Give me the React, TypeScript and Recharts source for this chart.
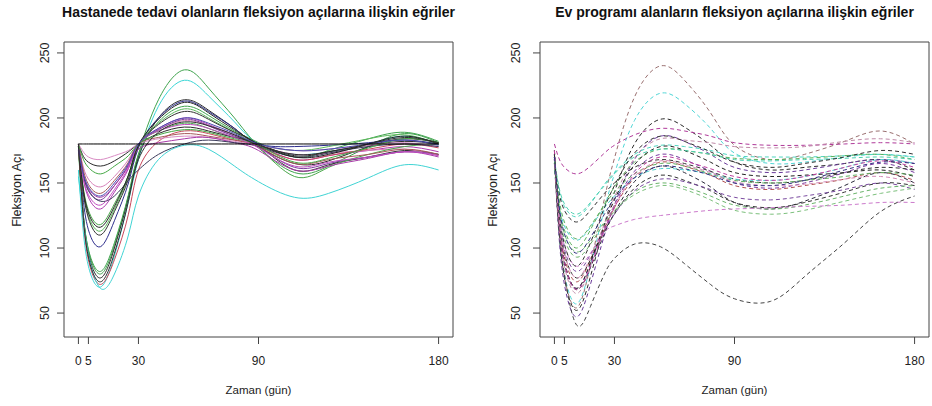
import React from 'react';
import { LineChart, Line, XAxis, YAxis, ReferenceArea } from 'recharts';

// gün (zaman) noktaları, her eğri bu noktalardaki değerlerle çizilir
const gunler = [0, 2, 5, 11, 18, 25, 30, 40, 53, 65, 78, 90, 108, 125, 145, 163, 180];
const xTicks = [0, 5, 30, 90, 180];
const yTicks = [50, 100, 150, 200, 250];

// Hastanede tedavi olanlar
const hastaneEgrileri: number[][] = [
  [178, 134, 98, 80, 102, 140, 172, 214, 237, 223, 200, 178, 158, 163, 178, 188, 181],
  [160, 120, 86, 70, 94, 136, 168, 209, 229, 217, 197, 180, 172, 174, 180, 186, 180],
  [180, 134, 96, 77, 100, 139, 170, 200, 214, 206, 192, 178, 165, 167, 178, 184, 181],
  [178, 143, 114, 101, 121, 150, 177, 200, 213, 205, 192, 180, 178, 179, 181, 183, 180],
  [175, 133, 99, 82, 104, 141, 172, 197, 209, 202, 190, 181, 170, 175, 184, 189, 182],
  [178, 149, 125, 113, 130, 155, 179, 196, 207, 200, 189, 180, 175, 178, 184, 187, 180],
  [180, 148, 123, 110, 128, 153, 178, 195, 205, 199, 189, 179, 160, 164, 170, 175, 172],
  [180, 157, 139, 130, 143, 161, 180, 192, 200, 195, 187, 179, 168, 171, 175, 178, 174],
  [180, 165, 153, 147, 155, 168, 180, 191, 198, 194, 186, 179, 172, 173, 175, 176, 171],
  [180, 161, 145, 137, 148, 164, 180, 191, 199, 194, 186, 178, 162, 165, 170, 174, 172],
  [178, 151, 129, 118, 134, 156, 179, 190, 196, 192, 185, 177, 155, 162, 172, 178, 180],
  [180, 172, 166, 163, 167, 174, 180, 188, 193, 190, 185, 180, 171, 174, 179, 182, 180],
  [180, 131, 91, 72, 91, 126, 160, 182, 190, 188, 183, 178, 168, 171, 176, 180, 177],
  [180, 163, 149, 142, 152, 166, 180, 185, 188, 186, 183, 178, 165, 168, 172, 176, 172],
  [180, 175, 170, 168, 171, 175, 180, 184, 186, 185, 182, 179, 175, 176, 179, 181, 178],
  [175, 159, 146, 139, 148, 163, 176, 181, 184, 185, 181, 175, 160, 163, 169, 174, 170],
  [178, 159, 144, 136, 140, 152, 160, 172, 180, 183, 181, 178, 170, 173, 178, 180, 178],
  [155, 128, 95, 69, 80, 110, 140, 168, 179, 176, 163, 151, 139, 142, 154, 164, 160],
  [180, 170, 162, 157, 163, 171, 180, 187, 191, 189, 184, 179, 166, 169, 177, 184, 181],
  [178, 157, 141, 133, 145, 162, 180, 190, 195, 192, 185, 177, 163, 166, 170, 174, 171],
  [178, 150, 127, 116, 132, 156, 179, 199, 212, 204, 191, 180, 170, 172, 180, 186, 180],
  [176, 160, 147, 140, 150, 165, 180, 192, 200, 196, 188, 180, 175, 176, 180, 183, 179],
  [180, 132, 93, 74, 96, 136, 168, 189, 197, 194, 187, 179, 172, 174, 180, 185, 181],
  [180, 180, 180, 180, 180, 180, 180, 180, 180, 180, 180, 180, 180, 180, 180, 180, 180],
];
const hastaneRenkleri = [
  '#3fa34d', '#3ad6d6', '#2b2b2b', '#2e2e8c', '#3fa34d', '#5cb85c', '#333333', '#b13bb1',
  '#d77fb8', '#7d3f9e', '#4aa84a', '#2b2b2b', '#c8475c', '#a65a5a', '#d98cc4', '#a83aa8',
  '#3a3a5a', '#40d4d4', '#44a844', '#c04cc0', '#222222', '#4b4bb0', '#2f2f2f', '#000000',
];

// Ev programı alanlar
const evEgrileri: number[][] = [
  [172, 119, 78, 54, 87, 138, 169, 216, 240, 229, 204, 179, 168, 172, 182, 190, 180],
  [170, 119, 80, 57, 86, 130, 157, 198, 219, 211, 192, 173, 165, 166, 170, 172, 170],
  [175, 120, 77, 52, 78, 118, 143, 180, 199, 193, 179, 166, 160, 162, 165, 168, 160],
  [180, 170, 162, 157, 163, 173, 179, 187, 192, 190, 186, 181, 179, 179, 180, 181, 180],
  [172, 116, 72, 47, 72, 110, 133, 168, 186, 182, 172, 162, 158, 160, 165, 168, 165],
  [168, 122, 86, 65, 86, 119, 139, 169, 184, 183, 181, 178, 177, 178, 182, 184, 181],
  [165, 147, 132, 124, 134, 149, 158, 172, 179, 178, 175, 171, 170, 170, 171, 172, 170],
  [168, 137, 114, 100, 114, 134, 147, 166, 176, 175, 172, 169, 168, 169, 171, 172, 168],
  [170, 125, 89, 69, 88, 115, 133, 159, 172, 168, 159, 150, 146, 150, 158, 165, 158],
  [165, 145, 129, 120, 129, 142, 150, 162, 168, 165, 159, 153, 150, 152, 158, 162, 160],
  [168, 126, 93, 74, 91, 115, 131, 154, 166, 163, 156, 148, 145, 148, 153, 158, 152],
  [170, 124, 88, 68, 85, 111, 127, 151, 163, 158, 147, 135, 130, 136, 148, 158, 150],
  [160, 136, 117, 106, 116, 131, 140, 154, 161, 160, 157, 153, 152, 155, 162, 168, 165],
  [172, 129, 96, 77, 91, 113, 126, 146, 156, 152, 144, 135, 131, 135, 143, 150, 148],
  [168, 129, 99, 82, 95, 114, 126, 144, 153, 151, 145, 139, 137, 140, 145, 150, 145],
  [165, 133, 107, 93, 103, 119, 128, 143, 150, 147, 140, 133, 130, 133, 140, 146, 148],
  [168, 136, 111, 97, 106, 120, 129, 141, 148, 145, 137, 129, 126, 129, 136, 142, 146],
  [170, 132, 102, 86, 96, 112, 117, 122, 125, 127, 129, 130, 131, 132, 133, 135, 135],
  [165, 120, 80, 41, 55, 80, 92, 103, 101, 88, 72, 61, 59, 78, 104, 128, 140],
  [175, 127, 90, 69, 89, 118, 137, 164, 178, 175, 166, 158, 155, 156, 158, 160, 155],
  [168, 149, 134, 126, 135, 148, 157, 170, 176, 175, 172, 168, 167, 168, 169, 170, 168],
  [170, 142, 120, 107, 117, 133, 143, 157, 165, 163, 157, 152, 150, 152, 155, 158, 156],
  [175, 127, 89, 68, 86, 114, 131, 157, 170, 167, 161, 155, 152, 155, 162, 167, 162],
  [172, 133, 103, 86, 104, 131, 148, 173, 186, 182, 174, 166, 162, 165, 170, 175, 172],
  [170, 128, 96, 77, 93, 118, 133, 155, 167, 164, 158, 151, 148, 149, 153, 155, 150],
  [170, 137, 111, 96, 108, 126, 138, 154, 163, 161, 156, 150, 148, 152, 160, 166, 165],
];
const evRenkleri = [
  '#9a7070', '#4fd6d6', '#2a2a2a', '#b03a9a', '#6a3a9a', '#c08aa8', '#4fd6c0', '#5ab05a',
  '#7a3aa0', '#333333', '#b05050', '#2a2a3a', '#50d0d0', '#333333', '#7a4aa0', '#6ab46a',
  '#7cc07c', '#cc7acc', '#444444', '#222222', '#4cd0b0', '#60b060', '#c040a0', '#303030',
  '#d48cb8', '#2f2f80',
];

const FONT = '"Liberation Sans", Arial, sans-serif';
const X_DOMAIN: [number, number] = [-7.2, 187.2];
const Y_DOMAIN: [number, number] = [31.6, 258.4];

function tablo(egriler: number[][]) {
  return gunler.map((t, i) => {
    const row: Record<string, number> = { t };
    egriler.forEach((e, k) => {
      row['e' + k] = e[i];
    });
    return row;
  });
}

interface PanelProps {
  title: string;
  egriler: number[][];
  renkler: string[];
  dashed: boolean;
  yWidth: number;
  right: number;
  tickGap: number;
  labelX: number;
}

const Panel: React.FC<PanelProps> = ({ title, egriler, renkler, dashed, yWidth, right, tickGap, labelX }) => {
  const data = tablo(egriler);
  const cx = (yWidth + 466 - right) / 2;

  const YTick = (props: any) => {
    const { x, y, payload } = props;
    return (
      <text
        transform={`translate(${x - tickGap},${y}) rotate(-90)`}
        textAnchor="middle"
        fontSize={12.5}
        fontFamily={FONT}
        fill="#222"
      >
        {payload.value}
      </text>
    );
  };

  return (
    <div style={{ position: 'relative', width: 466, height: 406, fontFamily: FONT }}>
      <LineChart width={466} height={406} data={data} margin={{ top: 42, right, bottom: 29, left: 0 }}>
        <XAxis
          dataKey="t"
          type="number"
          domain={X_DOMAIN}
          ticks={xTicks}
          interval={0}
          allowDataOverflow
          axisLine={false}
          tickSize={7}
          tickMargin={12}
          height={40}
          tickLine={{ stroke: '#444' }}
          tick={{ fontSize: 12, fill: '#222', fontFamily: FONT }}
        />
        <YAxis
          type="number"
          domain={Y_DOMAIN}
          ticks={yTicks}
          interval={0}
          allowDataOverflow
          axisLine={false}
          width={yWidth}
          tickSize={7}
          tickLine={{ stroke: '#444' }}
          tick={YTick}
        />
        {egriler.map((_, k) => (
          <Line
            key={k}
            dataKey={'e' + k}
            type="natural"
            stroke={renkler[k]}
            strokeWidth={1}
            strokeDasharray={dashed ? '4 3' : undefined}
            dot={false}
            isAnimationActive={false}
          />
        ))}
        <ReferenceArea
          x1={X_DOMAIN[0]}
          x2={X_DOMAIN[1]}
          y1={Y_DOMAIN[0]}
          y2={Y_DOMAIN[1]}
          ifOverflow="visible"
          fill="none"
          stroke="#444"
          strokeWidth={1}
        />
      </LineChart>
      <div
        style={{
          position: 'absolute',
          left: cx - 250,
          width: 500,
          top: 4,
          lineHeight: '16px',
          textAlign: 'center',
          fontSize: 14,
          fontWeight: 'bold',
          whiteSpace: 'nowrap',
          color: '#111',
        }}
      >
        {title}
      </div>
      <div
        style={{
          position: 'absolute',
          left: cx - 100,
          width: 200,
          top: 382,
          lineHeight: '16px',
          textAlign: 'center',
          fontSize: 11.5,
          color: '#222',
        }}
      >
        Zaman (gün)
      </div>
      <div
        style={{
          position: 'absolute',
          left: labelX - 60,
          width: 120,
          top: 182,
          lineHeight: '16px',
          textAlign: 'center',
          fontSize: 12.5,
          color: '#222',
          transform: 'rotate(-90deg)',
          whiteSpace: 'nowrap',
        }}
      >
        Fleksiyon Açı
      </div>
    </div>
  );
};

export default function App() {
  return (
    <div style={{ position: 'absolute', left: 0, top: 0, width: 932, height: 406, background: '#fff', display: 'flex' }}>
      <Panel
        title="Hastanede tedavi olanların fleksiyon açılarına ilişkin eğriler"
        egriler={hastaneEgrileri}
        renkler={hastaneRenkleri}
        dashed={false}
        yWidth={64}
        right={13}
        tickGap={6.5}
        labelX={17}
      />
      <Panel
        title="Ev programı alanların fleksiyon açılarına ilişkin eğriler"
        egriler={evEgrileri}
        renkler={evRenkleri}
        dashed={true}
        yWidth={74}
        right={3}
        tickGap={11.5}
        labelX={27}
      />
    </div>
  );
}
